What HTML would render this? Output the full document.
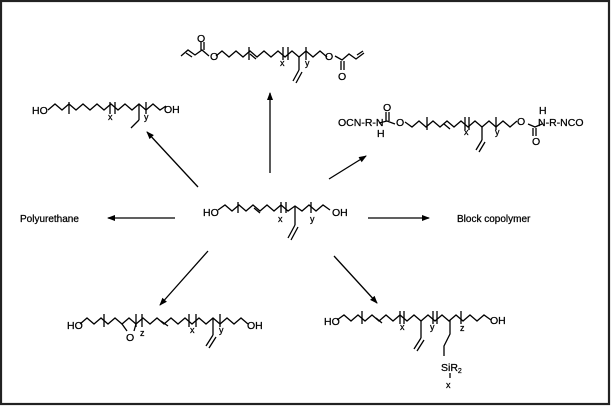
<!DOCTYPE html>
<html><head><meta charset="utf-8"><style>
html,body{margin:0;padding:0;background:#fff;}
svg{display:block;}
text{font-family:"Liberation Sans",sans-serif;fill:#000;stroke:#000;stroke-width:0.25;}
</style></head><body>
<svg width="611" height="406" viewBox="0 0 611 406" xmlns="http://www.w3.org/2000/svg">
<defs><marker id="a" markerWidth="8" markerHeight="8" refX="7" refY="4" orient="auto" markerUnits="userSpaceOnUse"><path d="M0,1 L8,4 L0,7 Z" fill="#000"/></marker></defs>
<rect x="1" y="1" width="608" height="403" fill="#fff" stroke="#222" stroke-width="2.2"/>
<g fill="none" stroke="#000" stroke-width="1.3">
<line x1="270" y1="173" x2="270" y2="93" marker-end="url(#a)"/>
<line x1="198" y1="187" x2="147" y2="132" marker-end="url(#a)"/>
<line x1="329" y1="179" x2="366" y2="156" marker-end="url(#a)"/>
<line x1="175" y1="218" x2="108" y2="218" marker-end="url(#a)"/>
<line x1="368" y1="218" x2="429" y2="218" marker-end="url(#a)"/>
<line x1="208" y1="251" x2="160" y2="305" marker-end="url(#a)"/>
<line x1="334" y1="256" x2="377" y2="303" marker-end="url(#a)"/>
<polyline points="218,210 225,205 232,211 239,205 246,211 253,205 260,211 267,205 274,211 281,205 288,211 295,206 302,211 309,205 316,211 323,205 330,210"/>
<line x1="238" y1="202" x2="238" y2="213"/><line x1="281" y1="202" x2="281" y2="213"/><line x1="286" y1="202" x2="286" y2="213"/><line x1="311" y1="202" x2="311" y2="213"/>
<line x1="295" y1="206" x2="295" y2="225"/><line x1="295" y1="225" x2="288" y2="238"/><line x1="298" y1="227" x2="291" y2="240"/>
<line x1="254" y1="208" x2="260" y2="213"/>
<polyline points="181,56 188,50 195,55 202,50 209,56"/><line x1="186" y1="53" x2="192" y2="57"/>
<line x1="201" y1="42" x2="201" y2="50"/><line x1="204" y1="42" x2="204" y2="50"/>
<polyline points="216,56 222,51 229,57 236,51 243,57 250,51 257,57 264,51 271,57 278,51 285,57 292,51 299,57 306,51 313,57 320,51 327,57"/>
<line x1="250" y1="54" x2="256" y2="59"/>
<line x1="249" y1="47" x2="249" y2="60"/><line x1="283" y1="47" x2="283" y2="60"/><line x1="288" y1="47" x2="288" y2="60"/><line x1="306" y1="47" x2="306" y2="60"/>
<line x1="299" y1="57" x2="299" y2="70"/><line x1="299" y1="70" x2="293" y2="81"/><line x1="302" y1="72" x2="296" y2="83"/>
<polyline points="335,56 342,60 349,54 356,59 364,53"/><line x1="357" y1="55" x2="363" y2="51"/>
<line x1="341" y1="61" x2="341" y2="70"/><line x1="344" y1="61" x2="344" y2="70"/>
<polyline points="48,110 55,104 62,110 69,104 76,110 83,104 90,110 97,104 104,110 111,104 118,110 125,104 132,110 139,104 146,110 153,104 160,110 166,106"/>
<line x1="69" y1="102" x2="69" y2="114"/><line x1="110" y1="102" x2="110" y2="114"/><line x1="115" y1="102" x2="115" y2="114"/><line x1="146" y1="102" x2="146" y2="114"/>
<line x1="139" y1="104" x2="139" y2="120"/><line x1="139" y1="120" x2="131" y2="128"/>
<line x1="386" y1="112" x2="386" y2="121"/><line x1="389" y1="112" x2="389" y2="121"/>
<polyline points="379,123 387,121 395,124"/>
<polyline points="405,122 412,127 419,121 426,127 433,121 440,127 447,121 454,127 461,121 468,127 475,121 482,127 489,121 496,127 503,121 510,127 517,121"/>
<line x1="427" y1="117" x2="427" y2="130"/><line x1="444" y1="124" x2="450" y2="129"/>
<line x1="465" y1="117" x2="465" y2="130"/><line x1="469" y1="117" x2="469" y2="130"/><line x1="496" y1="117" x2="496" y2="130"/>
<line x1="482" y1="127" x2="482" y2="140"/><line x1="482" y1="140" x2="476" y2="150"/><line x1="485" y1="142" x2="479" y2="152"/>
<polyline points="528,124 535,127 542,124"/>
<line x1="533" y1="128" x2="533" y2="136"/><line x1="536" y1="128" x2="536" y2="136"/>
<polyline points="80,324 87,318 94,324 101,318 108,324 115,318 122,324 129,318 136,324 143,318 150,324 157,318 164,324 171,318 178,324 185,318 192,324 199,318 206,324 213,318 220,324 227,318 234,324 241,318 248,324"/>
<line x1="104" y1="314" x2="104" y2="327"/><line x1="136" y1="314" x2="136" y2="327"/><line x1="142" y1="314" x2="142" y2="327"/>
<line x1="161" y1="321" x2="168" y2="326"/><line x1="189" y1="314" x2="189" y2="327"/><line x1="196" y1="314" x2="196" y2="327"/><line x1="220" y1="314" x2="220" y2="327"/>
<line x1="122" y1="324" x2="127" y2="331"/><line x1="136" y1="324" x2="134" y2="331"/>
<line x1="213" y1="318" x2="213" y2="335"/><line x1="213" y1="335" x2="206" y2="346"/><line x1="216" y1="337" x2="209" y2="348"/>
<polyline points="337,320 344,315 351,321 358,315 365,321 372,315 379,321 386,315 393,321 400,315 407,321 414,315 421,321 428,315 435,321 442,315 449,321 456,315 463,321 470,315 477,321 484,315 491,320"/>
<line x1="362" y1="311" x2="362" y2="324"/><line x1="376" y1="318" x2="382" y2="323"/>
<line x1="400" y1="311" x2="400" y2="324"/><line x1="404" y1="311" x2="404" y2="324"/><line x1="433" y1="311" x2="433" y2="324"/><line x1="437" y1="311" x2="437" y2="324"/><line x1="461" y1="311" x2="461" y2="324"/>
<line x1="421" y1="321" x2="421" y2="338"/><line x1="421" y1="338" x2="414" y2="349"/><line x1="424" y1="340" x2="417" y2="351"/>
<polyline points="450,320 450,334 444,346 444,356"/>
<line x1="450" y1="373" x2="450" y2="378"/>
</g>
<g font-size="10.5">
<text x="203" y="216">HO</text><text x="332" y="216">OH</text>
<text x="278" y="222" font-size="9">x</text><text x="310" y="222" font-size="9">y</text>
<text x="20" y="222" font-size="10">Polyurethane</text>
<text x="457" y="222" font-size="10">Block copolymer</text>
<text x="210" y="60">O</text><text x="197" y="42">O</text>
<text x="325" y="60">O</text><text x="338" y="80">O</text>
<text x="280" y="66" font-size="9">x</text><text x="305" y="66" font-size="9">y</text>
<text x="32" y="114">HO</text><text x="164" y="113">OH</text>
<text x="108" y="120" font-size="9">x</text><text x="144" y="120" font-size="9">y</text>
<text x="338" y="126">OCN-R-N</text><text x="377" y="137">H</text><text x="383" y="111">O</text>
<text x="396" y="126">O</text>
<text x="464" y="135" font-size="9">x</text><text x="495" y="135" font-size="9">y</text>
<text x="517" y="125">O</text><text x="532" y="145">O</text>
<text x="538" y="126">N-R-NCO</text><text x="539" y="114">H</text>
<text x="67" y="329">HO</text><text x="247" y="329">OH</text>
<text x="126" y="341">O</text><text x="140" y="336" font-size="9">z</text>
<text x="190" y="333" font-size="9">x</text><text x="219" y="333" font-size="9">y</text>
<text x="324" y="325">HO</text><text x="490" y="324">OH</text>
<text x="400" y="330" font-size="9">x</text><text x="430" y="330" font-size="9">y</text><text x="460" y="331" font-size="9">z</text>
<text x="441" y="371">SiR<tspan font-size="7" dy="2">2</tspan></text>
<text x="446" y="388" font-size="9">x</text>
</g>
</svg>
</body></html>
